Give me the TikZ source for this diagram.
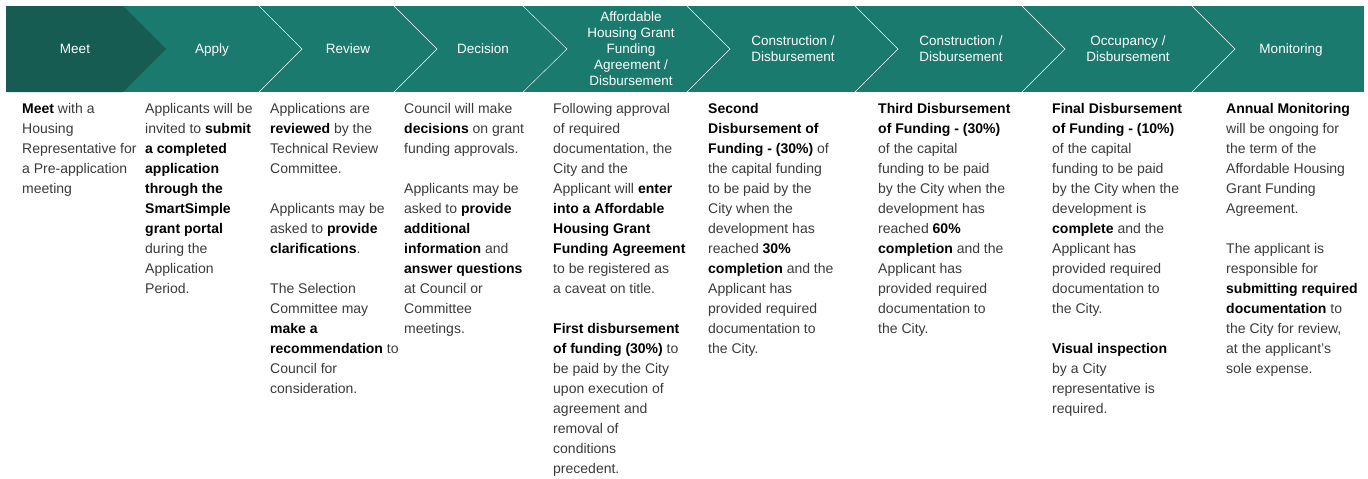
\documentclass[tikz,border=0pt]{standalone}
\usepackage{fontspec}
\setmainfont{Liberation Sans}
\definecolor{meetgreen}{HTML}{175C52}
\definecolor{bannergreen}{HTML}{1B7A6E}
\definecolor{bodygray}{HTML}{3A3A3A}
\newcommand{\bw}[1]{\textcolor{black}{\textbf{#1}}}
\begin{document}
\begin{tikzpicture}[x=1pt, y=-1pt,
    stage/.style={text=white, align=center, font=\fontsize{13.5}{16}\selectfont, inner sep=0, execute at begin node={\vphantom{Ag}}, execute at end node={\vphantom{g}}},
    info/.style={anchor=north west, align=left, text=bodygray, font=\fontsize{14}{20}\selectfont, inner sep=0, execute at begin node=\strut}]
            \useasboundingbox (0, 0) rectangle (1368, 479);
            \fill[bannergreen] (6, 6) rectangle (1364, 92);
            \fill[meetgreen] (6, 6) -- (123, 6) -- (166, 49) -- (123, 92) -- (6, 92) -- cycle;
            \draw[white, thin] (259, 6) -- (302, 49) -- (259, 92);
            \draw[white, thin] (394, 6) -- (437, 49) -- (394, 92);
            \draw[white, thin] (523, 6) -- (567, 49) -- (523, 92);
            \draw[white, thin] (687, 6) -- (730, 49) -- (687, 92);
            \draw[white, thin] (855, 6) -- (898, 49) -- (855, 92);
            \draw[white, thin] (1022, 6) -- (1065, 49) -- (1022, 92);
            \draw[white, thin] (1192, 6) -- (1235, 49) -- (1192, 92);

            \node[stage] (meet) at (75, 50.5) {Meet};
            \node[stage] (apply) at (212, 50.5) {Apply};
            \node[stage] (review) at (348, 50.5) {Review};
            \node[stage] (decision) at (483, 50.5) {Decision};
            \node[stage] (agreement) at (631, 50.5) {Affordable\\Housing Grant\\Funding\\Agreement /\\Disbursement};
            \node[stage] (construction1) at (793, 50.5) {Construction /\\Disbursement};
            \node[stage] (construction2) at (961, 50.5) {Construction /\\Disbursement};
            \node[stage] (occupancy) at (1128, 50.5) {Occupancy /\\Disbursement};
            \node[stage] (monitoring) at (1291, 50.5) {Monitoring};

            \node[info] (meettext) at (22, 103) {\bw{Meet} with a\\Housing\\Representative for\\a Pre-application\\meeting};
            \node[info] (applytext) at (145, 103) {Applicants will be\\invited to \bw{submit}\\\bw{a completed}\\\bw{application}\\\bw{through the}\\\bw{SmartSimple}\\\bw{grant portal}\\during the\\Application\\Period.};
            \node[info] (reviewtext) at (270, 103) {Applications are\\\bw{reviewed} by the\\Technical Review\\Committee.\\[20pt]Applicants may be\\asked to \bw{provide}\\\bw{clarifications}.\\[20pt]The Selection\\Committee may\\\bw{make a}\\\bw{recommendation} to\\Council for\\consideration.};
            \node[info] (decisiontext) at (404, 103) {Council will make\\\bw{decisions} on grant\\funding approvals.\\[20pt]Applicants may be\\asked to \bw{provide}\\\bw{additional}\\\bw{information} and\\\bw{answer questions}\\at Council or\\Committee\\meetings.};
            \node[info] (agreementtext) at (553, 103) {Following approval\\of required\\documentation, the\\City and the\\Applicant will \bw{enter}\\\bw{into a Affordable}\\\bw{Housing Grant}\\\bw{Funding Agreement}\\to be registered as\\a caveat on title.\\[20pt]\bw{First disbursement}\\\bw{of funding (30\%)} to\\be paid by the City\\upon execution of\\agreement and\\removal of\\conditions\\precedent.};
            \node[info] (secondtext) at (708, 103) {\bw{Second}\\\bw{Disbursement of}\\\bw{Funding - (30\%)} of\\the capital funding\\to be paid by the\\City when the\\development has\\reached \bw{30\%}\\\bw{completion} and the\\Applicant has\\provided required\\documentation to\\the City.};
            \node[info] (thirdtext) at (878, 103) {\bw{Third Disbursement}\\\bw{of Funding - (30\%)}\\of the capital\\funding to be paid\\by the City when the\\development has\\reached \bw{60\%}\\\bw{completion} and the\\Applicant has\\provided required\\documentation to\\the City.};
            \node[info] (finaltext) at (1052, 103) {\bw{Final Disbursement}\\\bw{of Funding - (10\%)}\\of the capital\\funding to be paid\\by the City when the\\development is\\\bw{complete} and the\\Applicant has\\provided required\\documentation to\\the City.\\[20pt]\bw{Visual inspection}\\by a City\\representative is\\required.};
            \node[info] (monitoringtext) at (1226, 103) {\bw{Annual Monitoring}\\will be ongoing for\\the term of the\\Affordable Housing\\Grant Funding\\Agreement.\\[20pt]The applicant is\\responsible for\\\bw{submitting required}\\\bw{documentation} to\\the City for review,\\at the applicant’s\\sole expense.};

\end{tikzpicture}
\end{document}
